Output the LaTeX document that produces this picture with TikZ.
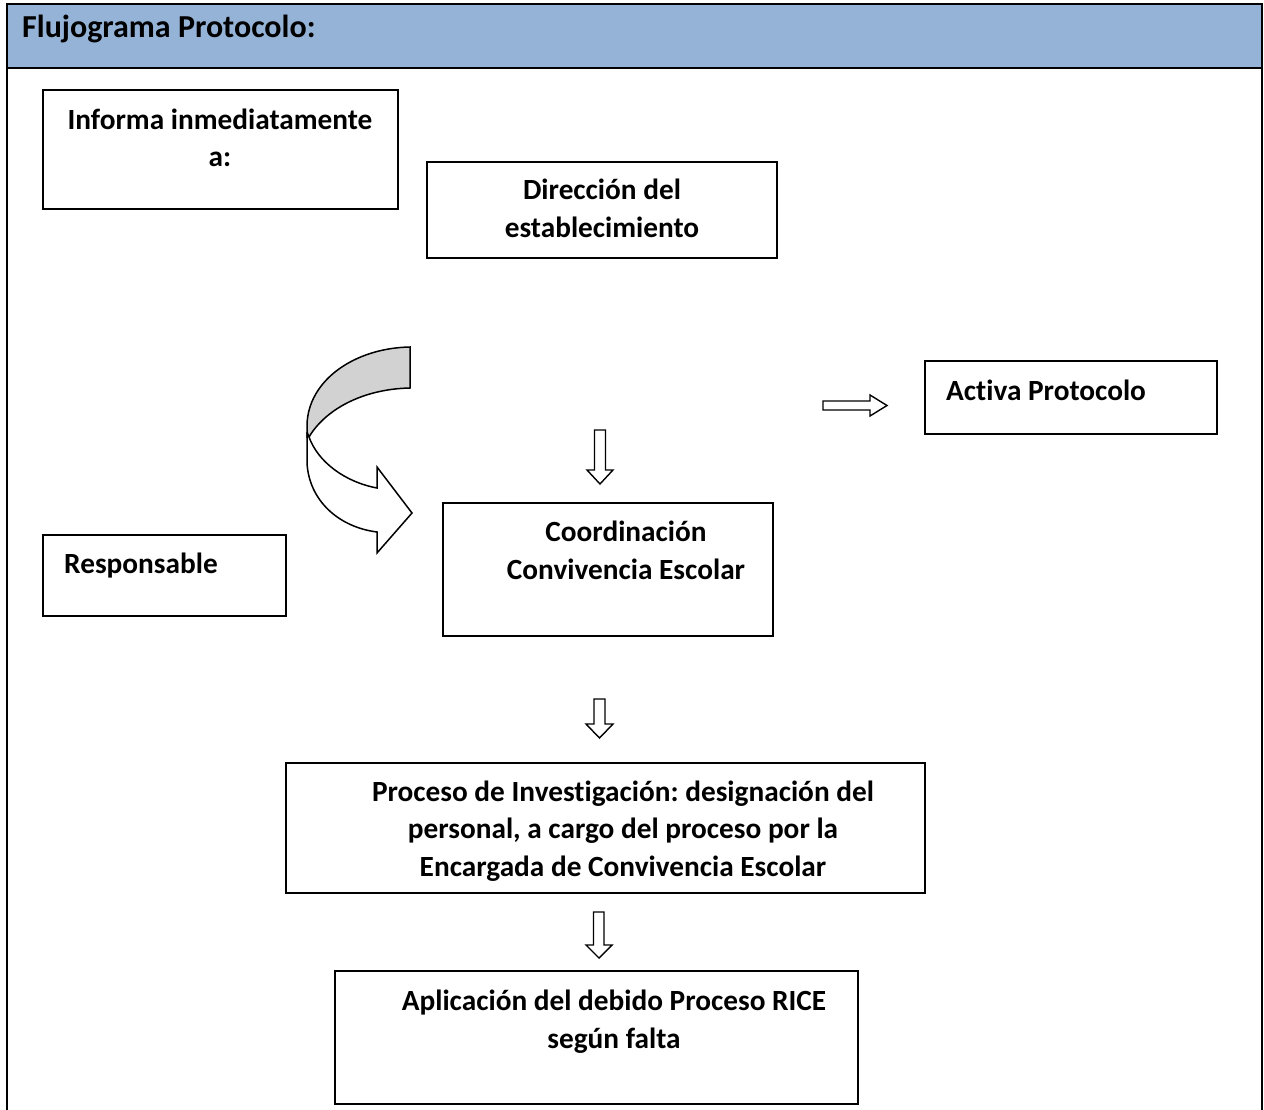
\documentclass[tikz,border=0pt]{standalone}
\usepackage{fontspec}
\setmainfont{Carlito}[Ligatures=NoCommon]
\frenchspacing
\definecolor{hdrblue}{RGB}{149,179,215}
\definecolor{bandgray}{RGB}{210,210,210}
\tikzset{
  frameline/.style={line width=2.5pt,draw=black},
  boxshape/.style={draw=black,line width=1.5pt,fill=white},
  txt/.style={font=\fontsize{29.3}{37.5}\selectfont\bfseries,inner sep=0pt},
  blockarrow/.style={draw=black,line width=1.4pt,fill=white,line join=miter},
}
\begin{document}
\begin{tikzpicture}[x=1pt,y=-1pt]
\useasboundingbox (0,0) rectangle (1264,1110);
% header
\fill[hdrblue] (7,4) rectangle (1262,68);
\draw[frameline] (7,1110) -- (7,4) -- (1262,4) -- (1262,1110);
\draw[frameline] (7,68) -- (1262,68);
\node[font=\fontsize{32}{38}\selectfont\bfseries,inner sep=0pt,anchor=base west] (title) at (22,38) {Flujograma Protocolo:};
% boxes
\draw[boxshape] (43,90) rectangle (398,209);
\node[txt,anchor=base,align=center] (t1) at (220,167) {Informa inmediatamente\\a:};
\draw[boxshape] (427,162) rectangle (777,258);
\node[txt,anchor=base,align=center] (t2) at (602,237) {Dirección del\\establecimiento};
\draw[boxshape] (925,361) rectangle (1217,434);
\node[txt,anchor=base west] (t3) at (946,400) {Activa Protocolo};
\draw[boxshape] (43,535) rectangle (286,616);
\node[txt,anchor=base west] (t4) at (64,573) {Responsable};
\draw[boxshape] (443,503) rectangle (773,636);
\node[txt,anchor=base,align=center] (t5) at (626,579) {Coordinación\\Convivencia Escolar};
\draw[boxshape] (286,763) rectangle (925,893);
\node[txt,anchor=base,align=center] (t6) at (623,876) {Proceso de Investigación: designación del\\personal, a cargo del proceso por la\\Encargada de Convivencia Escolar};
\draw[boxshape] (335,971) rectangle (858,1104);
\node[txt,anchor=base,align=center] (t7) at (614,1048) {Aplicación del debido Proceso RICE\\según falta};
% block arrows
\draw[blockarrow] (594.5,430) -- (605.5,430) -- (605.5,470) -- (613,470) -- (600,484) -- (587,470) -- (594.5,470) -- cycle;
\draw[blockarrow] (594,699) -- (605,699) -- (605,724) -- (613,724) -- (599.5,738) -- (586,724) -- (594,724) -- cycle;
\draw[blockarrow] (593.5,912) -- (604,912) -- (604,945) -- (612,945) -- (599,958) -- (586,945) -- (593.5,945) -- cycle;
\draw[blockarrow] (823,401) -- (870,401) -- (870,395) -- (887,405.5) -- (870,416) -- (870,410) -- (823,410) -- cycle;
% curved arrow
\draw[line width=1.5pt,fill=bandgray,line join=miter]
  (410,347) .. controls (355,348) and (308,380) .. (307,425) -- (307,437) -- (309,437)
  .. controls (325,410) and (362,389) .. (410,388) -- cycle;
\draw[line width=1.5pt,fill=white,line join=miter]
  (307,432) -- (307,463) .. controls (309,500) and (338,527) .. (377,532)
  -- (377,553) -- (412,513) -- (377,467) -- (377,488)
  .. controls (345,482) and (318,462) .. (309,437) -- (307,432);
\end{tikzpicture}
\end{document}
